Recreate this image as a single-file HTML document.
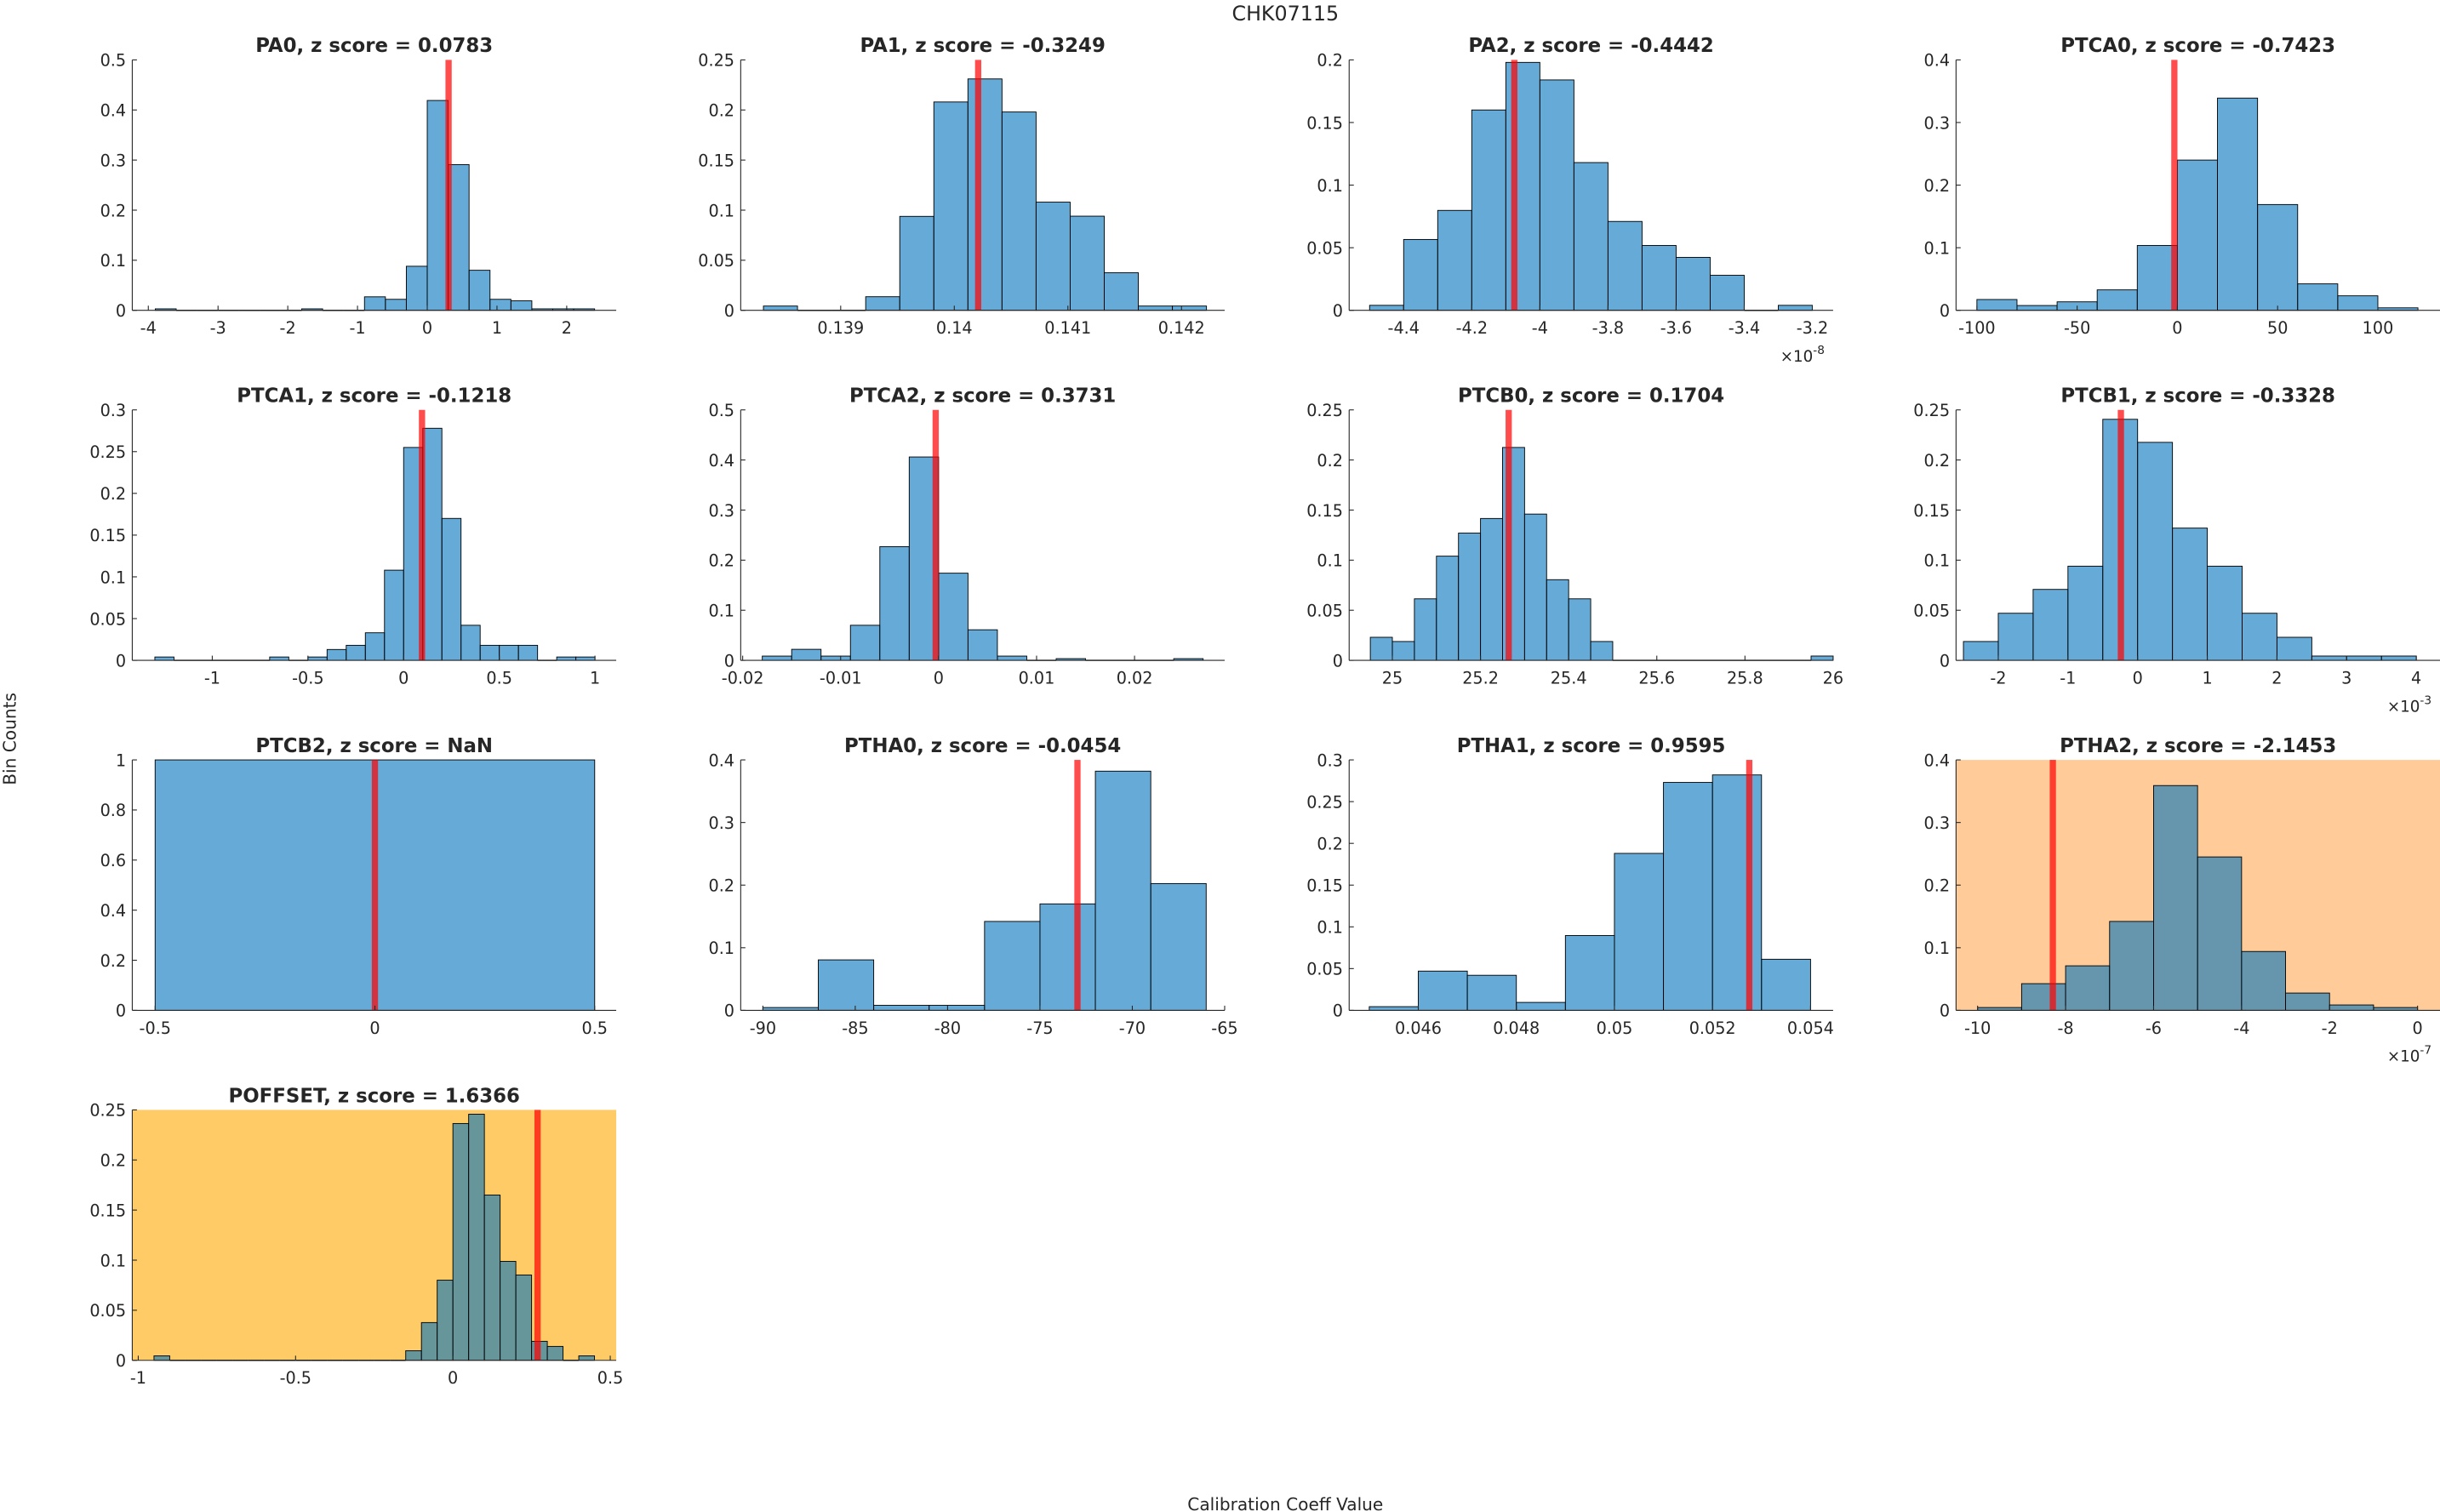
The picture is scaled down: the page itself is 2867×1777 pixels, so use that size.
<!DOCTYPE html>
<html><head><meta charset="utf-8"><style>
html,body{margin:0;padding:0;background:#fff;}
svg{display:block;}
text{font-family:"DejaVu Sans","Liberation Sans",sans-serif;fill:#262626;}
</style></head><body>
<svg id="fig" xmlns="http://www.w3.org/2000/svg" width="2867" height="1777" viewBox="0 0 1568 972" preserveAspectRatio="none">
<text x="826" y="13" text-anchor="middle" font-size="13">CHK07115</text>
<text x="0" y="0" transform="translate(10,475) rotate(-90)" text-anchor="middle" font-size="11">Bin Counts</text>
<text x="826" y="971" text-anchor="middle" font-size="11">Calibration Coeff Value</text>
</svg>
<script>
// ---- data arrays (bin start, bin width, normalized counts, reference value) ----
const PA0_values=[0.003,0,0,0,0,0,0,0.003,0,0,0.027,0.022,0.088,0.419,0.291,0.08,0.022,0.019,0.003,0.003,0.003];
const PA0_bins=[-3.9,0.3]; const PA0_ref=0.306;
const PA1_values=[0.0043,0,0,0.0136,0.0938,0.208,0.231,0.198,0.108,0.094,0.0375,0.0043,0.0043];
const PA1_bins=[0.13832,0.0003]; const PA1_ref=0.14021;
const PA2_values=[0.004,0.0566,0.0798,0.160,0.198,0.184,0.118,0.071,0.0518,0.0423,0.028,0,0.004];
const PA2_bins=[-4.5,0.1]; const PA2_ref=-4.075;
const PTCA0_values=[0.0173,0.0077,0.0136,0.0327,0.1036,0.24,0.339,0.169,0.0423,0.0232,0.004];
const PTCA0_bins=[-100,20]; const PTCA0_ref=-1.5;
const PTCA1_values=[0.004,0,0,0,0,0,0.004,0,0.004,0.013,0.018,0.033,0.108,0.255,0.278,0.170,0.042,0.018,0.018,0.018,0,0.004,0.004];
const PTCA1_bins=[-1.3,0.1]; const PTCA1_ref=0.096;
const PTCA2_values=[0.0085,0.022,0.0085,0.070,0.227,0.406,0.174,0.061,0.0085,0,0.0034,0,0,0,0.0034];
const PTCA2_bins=[-0.018,0.003]; const PTCA2_ref=-0.0003;
const PTCB0_values=[0.023,0.0188,0.0614,0.104,0.127,0.1416,0.2125,0.146,0.0805,0.0614,0.0188,0,0,0,0,0,0,0,0,0,0.0043];
const PTCB0_bins=[24.95,0.05]; const PTCB0_ref=25.264;
const PTCB1_values=[0.0188,0.047,0.0708,0.094,0.2406,0.2176,0.132,0.094,0.047,0.023,0.0043,0.0043,0.0043];
const PTCB1_bins=[-2.5,0.5]; const PTCB1_ref=-0.24;
const PTCB2_values=[1];
const PTCB2_bins=[-0.5,1]; const PTCB2_ref=0;
const PTHA0_values=[0.0045,0.0806,0.008,0.008,0.142,0.170,0.382,0.2025];
const PTHA0_bins=[-90,3]; const PTHA0_ref=-72.97;
const PTHA1_values=[0.0044,0.047,0.042,0.0095,0.0896,0.188,0.273,0.282,0.0612];
const PTHA1_bins=[0.045,0.001]; const PTHA1_ref=0.05275;
const PTHA2_values=[0.0045,0.0426,0.0711,0.142,0.359,0.245,0.094,0.0276,0.0086,0.0045];
const PTHA2_bins=[-10,1]; const PTHA2_ref=-8.29;
const POFFSET_values=[0.0045,0,0,0,0,0,0,0,0,0,0,0,0,0,0,0,0.0096,0.0377,0.080,0.2364,0.2457,0.165,0.0988,0.0852,0.019,0.0139,0,0.0045];
const POFFSET_bins=[-0.95,0.05]; const POFFSET_ref=0.269;

// ---- tick arrays ----
const PA0_xticks=[-4,-3,-2,-1,0,1,2]; const PA0_xlabels=['-4','-3','-2','-1','0','1','2'];
const PA0_yticks=[0,0.1,0.2,0.3,0.4,0.5]; const PA0_ylabels=['0','0.1','0.2','0.3','0.4','0.5'];
const PA1_xticks=[0.139,0.14,0.141,0.142]; const PA1_xlabels=['0.139','0.14','0.141','0.142'];
const PA1_yticks=[0,0.05,0.1,0.15,0.2,0.25]; const PA1_ylabels=['0','0.05','0.1','0.15','0.2','0.25'];
const PA2_xticks=[-4.4,-4.2,-4,-3.8,-3.6,-3.4,-3.2]; const PA2_xlabels=['-4.4','-4.2','-4','-3.8','-3.6','-3.4','-3.2'];
const PA2_yticks=[0,0.05,0.1,0.15,0.2]; const PA2_ylabels=['0','0.05','0.1','0.15','0.2'];
const PTCA0_xticks=[-100,-50,0,50,100]; const PTCA0_xlabels=['-100','-50','0','50','100'];
const PTCA0_yticks=[0,0.1,0.2,0.3,0.4]; const PTCA0_ylabels=['0','0.1','0.2','0.3','0.4'];
const PTCA1_xticks=[-1,-0.5,0,0.5,1]; const PTCA1_xlabels=['-1','-0.5','0','0.5','1'];
const PTCA1_yticks=[0,0.05,0.1,0.15,0.2,0.25,0.3]; const PTCA1_ylabels=['0','0.05','0.1','0.15','0.2','0.25','0.3'];
const PTCA2_xticks=[-0.02,-0.01,0,0.01,0.02]; const PTCA2_xlabels=['-0.02','-0.01','0','0.01','0.02'];
const PTCA2_yticks=[0,0.1,0.2,0.3,0.4,0.5]; const PTCA2_ylabels=['0','0.1','0.2','0.3','0.4','0.5'];
const PTCB0_xticks=[25,25.2,25.4,25.6,25.8,26]; const PTCB0_xlabels=['25','25.2','25.4','25.6','25.8','26'];
const PTCB0_yticks=[0,0.05,0.1,0.15,0.2,0.25]; const PTCB0_ylabels=['0','0.05','0.1','0.15','0.2','0.25'];
const PTCB1_xticks=[-2,-1,0,1,2,3,4]; const PTCB1_xlabels=['-2','-1','0','1','2','3','4'];
const PTCB1_yticks=[0,0.05,0.1,0.15,0.2,0.25]; const PTCB1_ylabels=['0','0.05','0.1','0.15','0.2','0.25'];
const PTCB2_xticks=[-0.5,0,0.5]; const PTCB2_xlabels=['-0.5','0','0.5'];
const PTCB2_yticks=[0,0.2,0.4,0.6,0.8,1]; const PTCB2_ylabels=['0','0.2','0.4','0.6','0.8','1'];
const PTHA0_xticks=[-90,-85,-80,-75,-70,-65]; const PTHA0_xlabels=['-90','-85','-80','-75','-70','-65'];
const PTHA0_yticks=[0,0.1,0.2,0.3,0.4]; const PTHA0_ylabels=['0','0.1','0.2','0.3','0.4'];
const PTHA1_xticks=[0.046,0.048,0.05,0.052,0.054]; const PTHA1_xlabels=['0.046','0.048','0.05','0.052','0.054'];
const PTHA1_yticks=[0,0.05,0.1,0.15,0.2,0.25,0.3]; const PTHA1_ylabels=['0','0.05','0.1','0.15','0.2','0.25','0.3'];
const PTHA2_xticks=[-10,-8,-6,-4,-2,0]; const PTHA2_xlabels=['-10','-8','-6','-4','-2','0'];
const PTHA2_yticks=[0,0.1,0.2,0.3,0.4]; const PTHA2_ylabels=['0','0.1','0.2','0.3','0.4'];
const POFFSET_xticks=[-1,-0.5,0,0.5]; const POFFSET_xlabels=['-1','-0.5','0','0.5'];
const POFFSET_yticks=[0,0.05,0.1,0.15,0.2,0.25]; const POFFSET_ylabels=['0','0.05','0.1','0.15','0.2','0.25'];

const panels=[
 {id:'pa0',title:'PA0, z score = 0.0783',c:0,r:0,xl:[-4.23,2.71],yl:[0,0.5],v:PA0_values,b:PA0_bins,ref:PA0_ref,xt:PA0_xticks,xs:PA0_xlabels,yt:PA0_yticks,ys:PA0_ylabels},
 {id:'pa1',title:'PA1, z score = -0.3249',c:1,r:0,xl:[0.13812,0.14238],yl:[0,0.25],v:PA1_values,b:PA1_bins,ref:PA1_ref,xt:PA1_xticks,xs:PA1_xlabels,yt:PA1_yticks,ys:PA1_ylabels},
 {id:'pa2',title:'PA2, z score = -0.4442',c:2,r:0,xl:[-4.56,-3.139],yl:[0,0.2],v:PA2_values,b:PA2_bins,ref:PA2_ref,xt:PA2_xticks,xs:PA2_xlabels,yt:PA2_yticks,ys:PA2_ylabels,mult:'-8'},
 {id:'ptca0',title:'PTCA0, z score = -0.7423',c:3,r:0,xl:[-110.4,131],yl:[0,0.4],v:PTCA0_values,b:PTCA0_bins,ref:PTCA0_ref,xt:PTCA0_xticks,xs:PTCA0_xlabels,yt:PTCA0_yticks,ys:PTCA0_ylabels},
 {id:'ptca1',title:'PTCA1, z score = -0.1218',c:0,r:1,xl:[-1.418,1.111],yl:[0,0.3],v:PTCA1_values,b:PTCA1_bins,ref:PTCA1_ref,xt:PTCA1_xticks,xs:PTCA1_xlabels,yt:PTCA1_yticks,ys:PTCA1_ylabels},
 {id:'ptca2',title:'PTCA2, z score = 0.3731',c:1,r:1,xl:[-0.0202,0.0292],yl:[0,0.5],v:PTCA2_values,b:PTCA2_bins,ref:PTCA2_ref,xt:PTCA2_xticks,xs:PTCA2_xlabels,yt:PTCA2_yticks,ys:PTCA2_ylabels},
 {id:'ptcb0',title:'PTCB0, z score = 0.1704',c:2,r:1,xl:[24.902,26.0],yl:[0,0.25],v:PTCB0_values,b:PTCB0_bins,ref:PTCB0_ref,xt:PTCB0_xticks,xs:PTCB0_xlabels,yt:PTCB0_yticks,ys:PTCB0_ylabels},
 {id:'ptcb1',title:'PTCB1, z score = -0.3328',c:3,r:1,xl:[-2.606,4.34],yl:[0,0.25],v:PTCB1_values,b:PTCB1_bins,ref:PTCB1_ref,xt:PTCB1_xticks,xs:PTCB1_xlabels,yt:PTCB1_yticks,ys:PTCB1_ylabels,mult:'-3'},
 {id:'ptcb2',title:'PTCB2, z score = NaN',c:0,r:2,xl:[-0.552,0.549],yl:[0,1],v:PTCB2_values,b:PTCB2_bins,ref:PTCB2_ref,xt:PTCB2_xticks,xs:PTCB2_xlabels,yt:PTCB2_yticks,ys:PTCB2_ylabels},
 {id:'ptha0',title:'PTHA0, z score = -0.0454',c:1,r:2,xl:[-91.2,-65],yl:[0,0.4],v:PTHA0_values,b:PTHA0_bins,ref:PTHA0_ref,xt:PTHA0_xticks,xs:PTHA0_xlabels,yt:PTHA0_yticks,ys:PTHA0_ylabels},
 {id:'ptha1',title:'PTHA1, z score = 0.9595',c:2,r:2,xl:[0.04459,0.05446],yl:[0,0.3],v:PTHA1_values,b:PTHA1_bins,ref:PTHA1_ref,xt:PTHA1_xticks,xs:PTHA1_xlabels,yt:PTHA1_yticks,ys:PTHA1_ylabels},
 {id:'ptha2',title:'PTHA2, z score = -2.1453',c:3,r:2,xl:[-10.49,0.51],yl:[0,0.4],v:PTHA2_values,b:PTHA2_bins,ref:PTHA2_ref,xt:PTHA2_xticks,xs:PTHA2_xlabels,yt:PTHA2_yticks,ys:PTHA2_ylabels,bg:'#ffcc99',mult:'-7'},
 {id:'poffset',title:'POFFSET, z score = 1.6366',c:0,r:3,xl:[-1.019,0.519],yl:[0,0.25],v:POFFSET_values,b:POFFSET_bins,ref:POFFSET_ref,xt:POFFSET_xticks,xs:POFFSET_xlabels,yt:POFFSET_yticks,ys:POFFSET_ylabels,bg:'#fecb66'}
];

const NS='http://www.w3.org/2000/svg';
const fig=document.getElementById('fig');
const COLX=[85,476,867,1257], ROWY=[38.5,263.5,488.5,713.5], AW=311, AH=161;
function mk(tag,attrs,parent){const e=document.createElementNS(NS,tag);for(const k in attrs)e.setAttribute(k,attrs[k]);parent.appendChild(e);return e;}

panels.forEach(p=>{
  const x0=COLX[p.c], y0=ROWY[p.r], x1=x0+AW, y1=y0+AH;
  const sx=v=>x0+(v-p.xl[0])/(p.xl[1]-p.xl[0])*AW;
  const sy=v=>y1-(v-p.yl[0])/(p.yl[1]-p.yl[0])*AH;
  const g=mk('g',{},fig);
  
  
  if(p.bg){
    const bg=mk('rect',{x:x0,y:y0,width:AW,height:AH,fill:p.bg},g);
    
    
  }
  p.v.forEach((val,i)=>{
    const a=p.b[0]+i*p.b[1], bb=a+p.b[1];
    const xa=sx(a), xb=sx(bb), yt=sy(val);
    let el;
    if(val>0){
      el=mk('rect',{x:xa,y:yt,width:xb-xa,height:y1-yt,fill:'#0072BD','fill-opacity':0.6,stroke:'#000','stroke-width':0.5},g);
    } else {
      el=mk('line',{x1:xa,x2:xb,y1:y1,y2:y1,stroke:'#000','stroke-width':0.8},g);
    }
    
    
  });
  const rx=sx(p.ref);
  const rl=mk('rect',{x:rx-2,y:y0,width:4,height:AH,fill:'#ff0000','fill-opacity':0.7},g);
  
  
  const ya=mk('line',{x1:x0,x2:x0,y1:y0,y2:y1,stroke:'#262626','stroke-width':0.6},g);
  
  
  const xa=mk('line',{x1:x0,x2:x1,y1:y1,y2:y1,stroke:'#262626','stroke-width':0.6},g);
  
  
  p.yt.forEach((t,i)=>{
    const y=sy(t);
    mk('line',{x1:x0,x2:x0+3,y1:y,y2:y,stroke:'#262626','stroke-width':0.6},g);
    const tx=mk('text',{x:x0-4,y:y+4,'text-anchor':'end','font-size':10.5},g);
    tx.textContent=p.ys[i];
    
    
  });
  p.xt.forEach((t,i)=>{
    const x=sx(t);
    mk('line',{x1:x,x2:x,y1:y1,y2:y1-3,stroke:'#262626','stroke-width':0.6},g);
    const tx=mk('text',{x:x,y:y1+15,'text-anchor':'middle','font-size':10.5},g);
    tx.textContent=p.xs[i];
    
    
  });
  if(p.mult){
    const m=mk('text',{x:x1-34,y:y1+33,'font-size':10},g);
    m.textContent='×10';
    const sp=mk('tspan',{dy:-5,'font-size':7.5},m);
    sp.textContent=p.mult;
    
    
  }
  const tt=mk('text',{x:(x0+x1)/2,y:y0-5,'text-anchor':'middle','font-size':12.5,'font-weight':'bold'},g);
  tt.textContent=p.title;
  
  
});
</script>
</body></html>
